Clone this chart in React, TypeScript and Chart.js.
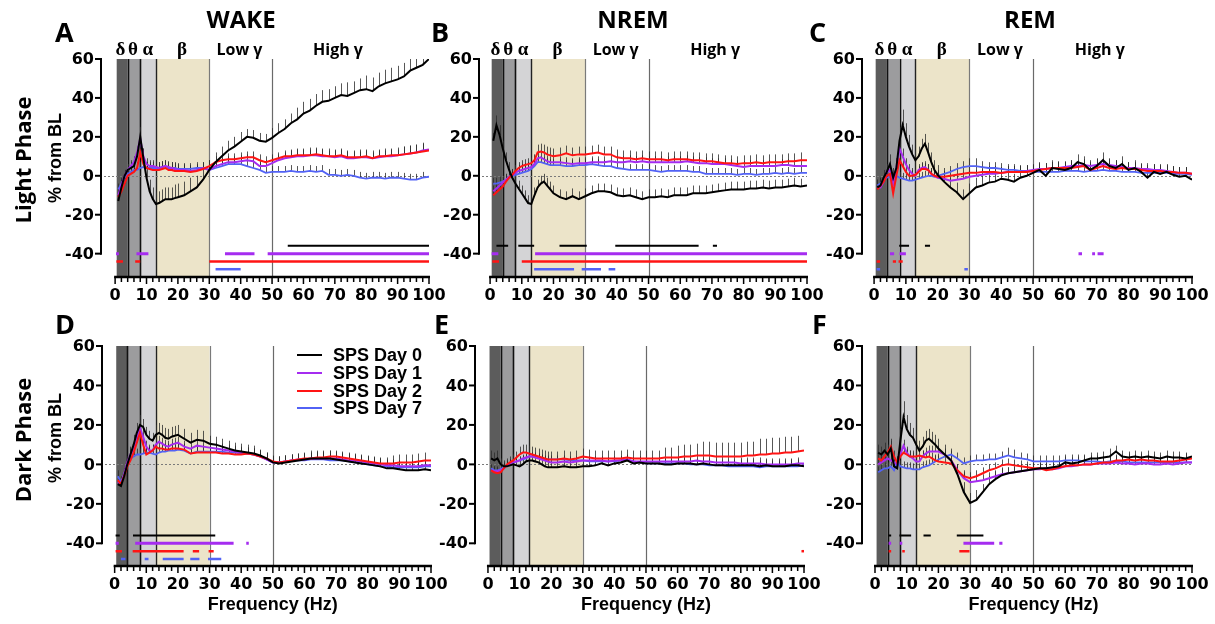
import React, { useEffect, useRef } from "react";
import { Chart, registerables } from "chart.js";

Chart.register(...registerables);

const W = 1215;
const H = 624;

// ---------- shared categories / ticks ----------
const FREQ = [1, 2, 3, 4, 5, 6, 7, 8, 9, 10, 11, 12, 13, 14, 15, 16, 17, 18, 19, 20, 22, 24, 26, 28, 30, 32, 34, 36, 38, 40, 42, 44, 46, 48, 50, 52, 54, 56, 58, 60, 62, 64, 66, 68, 70, 72, 74, 76, 78, 80, 82, 84, 86, 88, 90, 92, 94, 96, 98, 100];
const X_TICKS = [0, 10, 20, 30, 40, 50, 60, 70, 80, 90, 100];
const Y_TICKS = [60, 40, 20, 0, -20, -40];
const SERIES_NAMES = ["SPS Day 0", "SPS Day 1", "SPS Day 2", "SPS Day 7"];
const SIG_LEVELS = [-36, -40, -44, -48];
const BAND_EDGES = [0.5, 4, 8, 13, 30];
const BAND_LABELS = ["δ", "θ", "α", "β", "Low γ", "High γ"];
const BAND_LABEL_HZ = [1.7, 5.7, 10.4, 21.3, 39.6, 71];
const BOUNDARY_HZ = [4, 8, 13, 30, 50];

// ---------- A: WAKE, light phase ----------
const A_D0 = [-13, -6, 0, 3, 4, 5, 10, 20, 9, -1, -8, -12, -14.5, -14, -13, -12, -12, -12, -11.5, -11, -10, -8, -6, -2, 3, 7, 10, 13, 15, 17.5, 20, 19.5, 18, 17.5, 19.5, 22, 24, 27, 29, 32, 33.5, 36, 38, 38.5, 40, 41.5, 41, 42.5, 44, 44.5, 43.5, 46, 47.5, 48.5, 49.5, 51, 54, 55.5, 57, 60];
const A_D1 = [-10, -5, 0, 3, 5, 7, 12, 19, 10, 6, 5, 5, 4.5, 4, 4.5, 5, 4.5, 4, 3.5, 3, 3, 2.5, 3, 4, 3, 5, 6, 7, 7, 7.5, 8, 7.5, 5, 5, 6.5, 8, 9, 9.5, 10, 10, 10.5, 10.5, 10, 10, 9.5, 10, 9, 9, 9.5, 9.5, 9, 9.5, 10, 10, 10.5, 11, 11.5, 12, 13, 13.5];
const A_D2 = [-11, -8, -4, 0, 1, 2, 4, 12, 6, 4, 3.5, 3, 3, 3, 3.5, 4, 3, 3, 2.5, 2.5, 2.5, 2, 2.5, 3.5, 5, 7, 8, 8.5, 8.5, 9, 9.5, 9.5, 8, 7, 8, 9, 10, 10, 10.5, 10.5, 10.5, 11, 10.5, 10, 10, 10.5, 9.5, 9.5, 9.5, 10, 9, 10, 10, 10.5, 10.5, 11, 11.5, 12, 12.5, 13];
const A_D7 = [-7, -4, -1, 1, 2, 3, 3, 4, 4.5, 4, 4, 4, 4, 4, 4.5, 5, 4, 4, 4, 3.5, 3.5, 3.5, 4, 4, 3, 4, 5, 6, 6, 6, 5, 4, 3, 1.5, 2, 2, 2, 2.5, 2, 2, 2.5, 2, 2.5, 0.5, 0.5, 0, 0.5, 0, -1, -1.5, -1, -1, -1.5, -1, -1, -1.5, -2, -2, -1, -0.5];
const A_SEM0 = [3, 3, 3, 3, 3, 3, 4, 5, 5, 6, 6, 6, 6, 6, 6, 6, 6, 6, 7, 7, 7, 7, 6, 6, 5, 5, 5, 5, 5, 5, 4, 4, 4, 4, 5, 5, 5, 5, 6, 6, 6, 6, 6, 6, 6, 6, 7, 6, 6, 7, 7, 7, 7, 7, 7, 7, 7, 7, 7, 7];
const A_SEM1 = [3, 3, 3, 3, 3, 3, 3, 4, 4, 3, 3, 3, 3, 3, 3, 3, 3, 3, 3, 3, 3, 3, 3, 3, 3, 3, 3, 3, 3, 3, 3, 3, 3, 3, 3, 3, 3, 4, 4, 4, 4, 4, 4, 4, 4, 4, 4, 4, 4, 4, 4, 4, 4, 4, 4, 4, 4, 4, 4, 4];
const A_SEM2 = [3, 3, 3, 3, 3, 3, 3, 4, 4, 3, 3, 3, 3, 3, 3, 3, 3, 3, 3, 3, 3, 3, 3, 3, 3, 3, 3, 3, 3, 3, 3, 3, 3, 3, 3, 3, 3, 3, 3, 3, 3, 3, 3, 3, 3, 3, 3, 3, 3, 3, 3, 3, 3, 3, 3, 4, 4, 4, 4, 4];
const A_SEM7 = [3, 3, 3, 3, 3, 3, 3, 3, 3, 3, 3, 3, 3, 3, 3, 3, 3, 3, 3, 3, 3, 3, 3, 3, 3, 3, 3, 3, 3, 3, 3, 4, 4, 3, 3, 3, 3, 3, 3, 3, 3, 3, 3, 3, 3, 3, 3, 3, 3, 3, 3, 3, 3, 3, 3, 3, 3, 3, 3, 3];
const SIG_A0 = [[55, 100]];
const SIG_A1 = [[0.3, 1.2], [6.8, 10.6], [35, 44.4], [48.6, 100]];
const SIG_A2 = [[0.4, 2.5], [6.4, 8], [30, 100]];
const SIG_A7 = [[32, 40]];

// ---------- B: NREM, light phase ----------
const B_D0 = [18, 26, 21, 14, 8, 3, -1, -4, -6.5, -9, -11.5, -14, -14.5, -10, -6, -4, -3, -5, -7, -9, -11, -12, -10.5, -12, -10.5, -9, -8, -8, -8.5, -10, -10.5, -10, -11, -12, -11, -11, -10.5, -11, -10, -10, -10, -9, -9, -9, -8.5, -8, -7.5, -7, -7, -7, -6.5, -6.5, -6, -6.5, -6, -6, -5.5, -5, -5.5, -5];
const B_D1 = [-8, -6.5, -5, -3.5, -2, -0.5, 0.5, 1.5, 2.5, 3, 3.5, 4, 4.5, 6, 9, 9.5, 8.5, 7.5, 7, 7, 7, 6.5, 6, 6.5, 6.5, 7, 7, 7, 7.5, 7, 7, 7.5, 7, 7.5, 7, 7, 7, 7, 7, 7, 7.5, 7, 6.5, 6.5, 6, 6, 6, 5.5, 5, 4.5, 5, 5, 5, 5, 5, 5.5, 5.5, 5, 5, 5];
const B_D2 = [-10, -8.5, -7, -5.5, -3, -1, 0.5, 2.5, 4, 5, 5.5, 6, 6.5, 8, 12, 12.5, 12, 11, 10.5, 10, 10.5, 11.5, 10.5, 11, 11, 11.5, 12, 11, 11, 9.5, 9, 9, 8.5, 9, 8.5, 8.5, 8.5, 8, 8.5, 8.5, 8.5, 8, 8, 7.5, 7.5, 7, 6.5, 6.5, 6, 6.5, 6.5, 7, 6.5, 7, 7, 7, 7.5, 7.5, 8, 8];
const B_D7 = [-4, -4, -3.5, -3, -2, -1, 0, 0.5, 1, 1.5, 2, 2.5, 3.5, 5, 7, 7, 6.5, 6, 5.5, 5.5, 5.5, 5, 5, 5.5, 5.5, 6, 5.5, 5, 5, 4, 3.5, 3, 3, 3, 3, 2.5, 2, 2.5, 2.5, 2.5, 2.5, 2, 2, 1, 1, 1, 1, 1, 0.5, 1, 1, 0.5, 1, 1, 1.5, 1, 1.5, 1, 1.5, 1.5];
const B_SEM0 = [4, 5, 5, 4, 4, 4, 4, 4, 4, 4, 4, 4, 4, 4, 4, 4, 4, 4, 4, 4, 4, 4, 4, 4, 4, 4, 4, 4, 4, 4, 4, 4, 4, 4, 4, 4, 4, 4, 4, 4, 4, 4, 4, 4, 4, 4, 4, 4, 4, 4, 4, 4, 4, 4, 4, 4, 4, 4, 4, 4];
const B_SEM1 = [3, 3, 3, 3, 3, 3, 3, 3, 3, 3, 3, 3, 3, 3, 3, 3, 3, 3, 3, 3, 3, 3, 3, 3, 3, 3, 3, 3, 3, 3, 3, 3, 3, 3, 3, 3, 3, 3, 3, 3, 3, 3, 3, 3, 3, 3, 3, 3, 3, 3, 3, 3, 3, 3, 3, 3, 3, 3, 3, 3];
const B_SEM2 = [3, 3, 3, 3, 3, 3, 3, 3, 3, 3, 3, 3, 3, 3, 4, 4, 4, 4, 4, 4, 4, 4, 4, 4, 4, 4, 4, 4, 4, 4, 4, 4, 4, 4, 4, 4, 4, 4, 4, 4, 4, 4, 4, 4, 4, 4, 4, 4, 4, 4, 4, 4, 4, 4, 4, 4, 4, 4, 4, 4];
const B_SEM7 = [3, 3, 3, 3, 3, 3, 3, 3, 3, 3, 3, 3, 3, 3, 3, 3, 3, 3, 3, 3, 3, 3, 3, 3, 3, 3, 3, 3, 3, 3, 3, 3, 3, 3, 3, 3, 3, 3, 3, 3, 3, 3, 3, 3, 3, 3, 3, 3, 3, 3, 3, 3, 3, 3, 3, 3, 3, 3, 3, 3];
const SIG_B0 = [[2, 5.7], [8.9, 13.9], [21.9, 30.5], [39.5, 65.8], [70.3, 71.6]];
const SIG_B1 = [[0.5, 2.6], [14.2, 100]];
const SIG_B2 = [[0.7, 2.8], [10, 100]];
const SIG_B7 = [[13.9, 26.5], [28.9, 35], [37.4, 39.5]];

// ---------- C: REM, light phase ----------
const C_D0 = [-6, -5, -1, 2, 6, -1, 4, 18, 26, 20, 15, 11, 8, 10, 14, 16.5, 12, 7, 3, 0.5, -3, -6, -8.5, -12, -9, -6, -5, -3.5, -3, -1.5, -2, -3, -1, 0, 1.5, 3, 0, 4, 3.5, 3, 4, 7, 6, 3, 5, 8, 5, 4, 6, 3, 4, 2, -1, 2, 1, 2, 0.5, -0.5, 0, -2];
const C_D1 = [-6, -6, -3, 2, 3, -4, 4, 14, 10, 6, 3, 1, 0, 3, 4, 4.5, 3, 1, 0, -1, -1.5, -2.5, -2, -1.5, -0.5, 0, 0.5, 1, 1, 1.5, 2, 2, 2, 2.5, 3, 3.5, 3.5, 4, 4, 4.5, 5, 5, 5.5, 5, 5.5, 6, 5.5, 5, 4.5, 4, 4, 3.5, 3.5, 3, 3, 2.5, 2, 1.5, 1.5, 1];
const C_D2 = [-7, -5, -3, 0, 1, -9, 0, 8, 5, 2, 0, 0, 0.5, 2, 3.5, 3.5, 3, 1, 0, -0.5, -0.5, 0, 0.5, 1, 1.5, 1.5, 2, 2, 2, 1.5, 2, 2, 2, 2, 2.5, 3, 3.5, 4, 4, 4, 4, 4.5, 5, 3, 4, 5, 4, 3.5, 4, 3.5, 3.5, 3, 2.5, 2.5, 2.5, 2, 2, 1.5, 1.5, 1];
const C_D7 = [-5, -4, -2, -1, -0.5, -4, 0, -1, -1.5, -2, -2.5, -2.5, -2, -1.5, -1, -0.5, 0, 0, -0.5, 0, 1, 2, 3.5, 4.5, 5, 5, 4.5, 4, 4, 3.5, 3, 3, 2.5, 2.5, 2, 2, 2, 2, 2, 2.5, 2.5, 2.5, 2, 2.5, 2.5, 3, 2.5, 2.5, 2, 2, 2, 1.5, 1.5, 1.5, 1.5, 1.5, 1, 1, 1, 0.5];
const C_SEM0 = [4, 4, 4, 4, 5, 5, 5, 7, 8, 7, 6, 5, 5, 5, 5, 5, 5, 5, 5, 5, 5, 5, 5, 5, 5, 5, 5, 4, 4, 4, 4, 4, 4, 4, 4, 4, 4, 4, 4, 4, 4, 4, 4, 4, 4, 4, 4, 4, 4, 4, 4, 4, 4, 4, 4, 4, 4, 4, 4, 4];
const C_SEM1 = [3, 3, 3, 3, 3, 3, 3, 4, 4, 3, 3, 3, 3, 3, 3, 3, 3, 3, 3, 3, 3, 3, 3, 3, 3, 3, 3, 3, 3, 3, 3, 3, 3, 3, 3, 3, 3, 3, 3, 3, 3, 3, 3, 3, 3, 3, 3, 3, 3, 3, 3, 3, 3, 3, 3, 3, 3, 3, 3, 3];
const C_SEM2 = [3, 3, 3, 3, 3, 3, 3, 3, 3, 3, 3, 3, 3, 3, 3, 3, 3, 3, 3, 3, 3, 3, 3, 3, 3, 3, 3, 3, 3, 3, 3, 3, 3, 3, 3, 3, 3, 3, 3, 3, 3, 3, 3, 3, 3, 3, 3, 3, 3, 3, 3, 3, 3, 3, 3, 3, 3, 3, 3, 3];
const C_SEM7 = [3, 3, 3, 3, 3, 3, 3, 3, 3, 3, 3, 3, 3, 3, 3, 3, 3, 3, 3, 3, 3, 3, 3, 3, 4, 4, 3, 3, 3, 3, 3, 3, 3, 3, 3, 3, 3, 3, 3, 3, 3, 3, 3, 3, 3, 3, 3, 3, 3, 3, 3, 3, 3, 3, 3, 3, 3, 3, 3, 3];
const SIG_C0 = [[7.9, 11], [16, 17.6]];
const SIG_C1 = [[5, 6.3], [8, 10], [64.3, 65.4], [68.6, 69.5], [70.3, 72.2]];
const SIG_C2 = [[0.8, 1.9], [5.9, 6.9], [7.7, 9]];
const SIG_C7 = [[0.8, 1.9], [28.4, 29.5]];

// ---------- D: WAKE, dark phase ----------
const D_D0 = [-10, -11, -6, 0, 5, 10, 16, 20, 19, 15, 13, 12, 15, 16, 15, 13.5, 13, 14, 14.5, 15, 13, 11, 12.5, 12, 10.5, 10, 9, 8, 7, 6.5, 6, 5.5, 4.5, 3, 1, 0.5, 1, 1.5, 2, 2.5, 3, 3, 3, 3, 2.5, 2, 1.5, 1, 0.5, 0, -0.5, -1, -2, -2, -2.5, -3, -3, -3, -2.5, -3];
const D_D1 = [-9, -10, -5, 1, 5, 8, 14, 18.5, 14, 9, 7, 7, 10, 11.5, 10.5, 9.5, 9, 10, 10.5, 11, 9, 8, 9.5, 9, 8.5, 8, 7.5, 7, 6.5, 6, 5.5, 5, 4, 2.5, 1, 1, 1.5, 2, 2.5, 2.5, 3, 3, 3, 3, 3, 2.5, 2, 2, 1.5, 1, 0.5, 0, -0.5, -0.5, -1, -1, -1, -1, -0.5, -0.5];
const D_D2 = [-8, -10, -6, -1, 2, 6, 11, 16, 10, 5, 6, 7, 9, 8, 8, 7.5, 7.5, 8, 8, 8, 7.5, 5.5, 6, 6, 6, 6, 5.5, 5.5, 5, 5, 5.5, 5, 4, 3, 1.5, 1, 1.5, 2, 2.5, 3, 3, 3.5, 3.5, 4, 4, 3.5, 3, 2.5, 2, 1.5, 1, 0.5, 0.5, 0.5, 1, 1, 1, 1.5, 2, 2];
const D_D7 = [-6, -9, -5, 0, 3, 4, 5, 5, 5.5, 6, 6, 5.5, 5, 6, 6.5, 6.5, 7, 7, 7, 7.5, 7, 5.5, 6.5, 6.5, 6.5, 6.5, 6.5, 6, 6, 5.5, 5.5, 5, 4, 2.5, 1, 1, 1.5, 2, 2, 2, 2.5, 2.5, 2.5, 2, 2, 2, 1.5, 1, 0.5, 0, -0.5, -1, -1, -1.5, -1.5, -1.5, -1.5, -1.5, -1, -1];
const D_SEM0 = [3, 3, 3, 4, 4, 5, 5, 5, 4, 4, 4, 4, 5, 5, 5, 5, 5, 5, 5, 5, 5, 5, 5, 5, 4, 4, 4, 4, 4, 4, 4, 4, 3, 3, 3, 3, 3, 3, 3, 3, 4, 4, 4, 4, 4, 4, 4, 4, 4, 4, 4, 4, 4, 4, 4, 4, 4, 4, 4, 4];
const D_SEM1 = [3, 3, 3, 3, 3, 3, 3, 4, 4, 3, 3, 3, 3, 3, 3, 3, 3, 3, 3, 3, 3, 3, 3, 3, 3, 3, 3, 3, 3, 3, 3, 3, 3, 3, 3, 3, 3, 3, 3, 3, 3, 3, 3, 3, 3, 3, 3, 3, 3, 3, 3, 3, 3, 3, 3, 3, 3, 3, 3, 3];
const D_SEM2 = [3, 3, 3, 3, 3, 3, 3, 4, 4, 3, 3, 3, 3, 3, 3, 3, 3, 3, 3, 3, 3, 3, 3, 3, 3, 3, 3, 3, 3, 3, 3, 3, 3, 3, 3, 3, 3, 3, 3, 3, 3, 3, 3, 3, 3, 3, 3, 3, 3, 3, 3, 3, 3, 4, 4, 4, 4, 4, 4, 4];
const D_SEM7 = [3, 3, 3, 3, 3, 3, 3, 3, 3, 3, 3, 3, 3, 3, 3, 3, 3, 3, 3, 3, 3, 3, 3, 3, 3, 3, 3, 3, 3, 3, 3, 3, 3, 3, 3, 3, 3, 3, 3, 3, 3, 3, 3, 3, 3, 3, 3, 3, 3, 3, 3, 3, 3, 3, 3, 3, 3, 3, 3, 3];
const SIG_D0 = [[0.3, 1.6], [5.8, 31.8]];
const SIG_D1 = [[0.3, 1.3], [6.5, 37.6], [41.6, 42.4]];
const SIG_D2 = [[0.3, 2.3], [5.7, 21.8], [24.7, 26.7], [29.7, 31.3]];
const SIG_D7 = [[2, 3.4], [9.5, 10.7], [15.2, 21.8], [23.9, 26.8], [29.5, 33.7]];

// ---------- E: NREM, dark phase ----------
const E_D0 = [3, 2, 3, 0, -1, -1, -0.5, 0, -0.5, -1, 0, 1.5, 2, 2, 1.5, 1, 0, -1, -1.5, -1.5, -1.5, -1, -1.5, -1.5, -1, -1, -0.5, 0.5, -0.5, 0.5, 1, 2, 0.5, 1, 0.5, 0.5, 0.5, 0, 0, 0.5, 0.5, 0.5, 0, 0.5, 0, -0.5, -0.5, -0.5, -0.5, -0.5, -0.5, -0.5, -1, -0.5, -1, -1, -1, -0.5, -0.5, -1];
const E_D1 = [-3, -3.5, -3.5, -3, -2, -0.5, 0.5, 1, 1.5, 2, 3, 3.5, 4, 4, 3.5, 3, 2.5, 2, 1.5, 1, 1, 1.5, 1, 1.5, 2, 2, 2, 2, 1.5, 2, 2, 2.5, 1.5, 1.5, 1.5, 1.5, 1.5, 1.5, 1.5, 1.5, 1.5, 1.5, 2, 1.5, 1.5, 1, 1, 1, 1, 0.5, 0.5, 0.5, 0.5, 0, 0, 0, 0, 0, 0.5, 0.5];
const E_D2 = [-3, -4, -4.5, -4, -2, 0, 1, 2, 3.5, 5, 6, 6, 5.5, 5, 4.5, 4, 3.5, 3, 2.5, 2.5, 2.5, 3, 2.5, 3, 4, 3.5, 3, 3, 3, 3, 3, 3.5, 3, 3, 3, 3, 3, 3.5, 3.5, 3.5, 4, 4, 4.5, 4.5, 4.5, 4, 4, 4, 4, 4, 4.5, 4.5, 5, 5, 5.5, 5.5, 6, 6, 6.5, 7];
const E_D7 = [-2, -3, -3, -2.5, -1.5, -0.5, 0.5, 1, 1.5, 2, 2.5, 3, 4, 4, 4, 3.5, 3, 2.5, 2.5, 2.5, 2.5, 2.5, 2, 2, 2, 1.5, 1.5, 1.5, 1.5, 1.5, 2, 2.5, 1.5, 1, 0.5, 0.5, 0.5, 0.5, 0.5, 0.5, 0.5, 0, 0, 0, -0.5, -0.5, -0.5, -1, -1, -1, -1, -1, -1.5, -1, -1, -1, -1, -1, -1, -0.5];
const E_SEM0 = [4, 4, 4, 3, 3, 3, 3, 3, 3, 3, 3, 3, 3, 3, 3, 3, 3, 3, 3, 3, 3, 3, 3, 3, 3, 3, 3, 3, 3, 3, 3, 3, 3, 3, 3, 3, 3, 3, 3, 3, 3, 3, 3, 3, 3, 3, 3, 3, 3, 3, 3, 3, 3, 3, 3, 3, 3, 3, 3, 3];
const E_SEM1 = [2, 2, 2, 2, 2, 2, 2, 2, 2, 2, 2, 2, 2, 2, 2, 2, 2, 2, 2, 2, 2, 2, 2, 2, 2, 2, 2, 2, 2, 2, 2, 2, 2, 2, 2, 2, 2, 2, 2, 2, 3, 3, 3, 3, 3, 3, 3, 3, 3, 3, 3, 3, 3, 3, 3, 3, 3, 3, 3, 3];
const E_SEM2 = [3, 3, 3, 3, 3, 3, 3, 3, 3, 4, 4, 4, 4, 4, 4, 4, 4, 4, 4, 4, 4, 4, 4, 4, 4, 4, 4, 4, 4, 4, 4, 4, 4, 4, 4, 4, 4, 5, 5, 6, 6, 6, 6, 7, 7, 7, 7, 7, 7, 7, 7, 7, 8, 8, 8, 8, 8, 8, 8, 8];
const E_SEM7 = [2, 2, 2, 2, 2, 2, 2, 2, 2, 2, 2, 2, 2, 2, 2, 2, 2, 2, 2, 2, 2, 2, 2, 2, 2, 2, 2, 2, 2, 2, 2, 2, 2, 2, 2, 2, 2, 2, 2, 2, 2, 2, 2, 2, 2, 2, 2, 2, 2, 2, 2, 2, 2, 2, 2, 2, 2, 2, 2, 2];
const SIG_E0: number[][] = [];
const SIG_E1: number[][] = [];
const SIG_E2 = [[99.2, 100]];
const SIG_E7: number[][] = [];

// ---------- F: REM, dark phase ----------
const F_D0 = [6, 5, 7, 5, 8, -1, -2, 12, 24, 18, 15, 13.5, 10, 7, 9, 12, 13, 11.5, 10, 8, 5, 2, -5, -14, -19.5, -18, -14, -10, -7.5, -5.5, -4.5, -4, -3.5, -3, -2.5, -2, -2, -1.5, -1, 1, 0.5, 1, 2, 3, 3, 3.5, 4, 6.5, 4, 3.5, 4, 3.5, 4, 3.5, 3, 4, 3.5, 3.5, 3, 4];
const F_D1 = [0, 1, 2, 3, 2, 1, 0, 5, 9.5, 6, 4, 3, 1.5, 1.5, 4, 5.5, 6.5, 6.5, 6.5, 6.5, 5, 2, -3, -7, -9, -8.5, -8, -7, -6, -5, -4.5, -4, -3.5, -3, -2.5, -2.5, -2, -2.5, -2, -1, -1, -0.5, 0, 0, 0.5, 0.5, 0.5, 1, 0.5, 0.5, 0, 0.5, 0.5, 0, 0, 0.5, 0, 0.5, 1, 1];
const F_D2 = [3, 2, 4, 6, 9, 4, 1, 4, 6, 5, 4, 4, 4, 4.5, 4, 3.5, 4, 3, 2, 1.5, 1, 0.5, -3, -6, -7, -6, -4.5, -3, -2, -0.5, 0, -0.5, -1, -1.5, -2, -2, -3, -2.5, -1.5, -1, -0.5, -0.5, 0, 0, 0.5, 1, 1, 2, 2, 2.5, 2, 2.5, 2, 2, 1.5, 1.5, 1.5, 2, 2.5, 3];
const F_D7 = [-4, -3, -2, -2, -1, -3, 1, -1, -1.5, -2, -2, -2.5, -2.5, -2.5, -1.5, -1, -0.5, 0.5, 1.5, 2.5, 4, 5, 3, 0.5, 1.5, 2, 2, 2.5, 2.5, 3.5, 4.5, 3.5, 3, 2.5, 1.5, 1.5, 1.5, 1.5, 1.5, 2, 2, 2, 1.5, 1.5, 1.5, 1, 1.5, 1.5, 1.5, 1, 1, 1, 1, 1, 1, 1, 1, 1, 1, 1];
const F_SEM0 = [4, 4, 4, 5, 5, 5, 5, 6, 8, 7, 6, 5, 5, 5, 5, 5, 5, 5, 5, 5, 5, 5, 5, 5, 5, 5, 4, 4, 4, 4, 3, 3, 3, 3, 3, 3, 3, 3, 3, 3, 3, 3, 3, 3, 3, 3, 4, 3, 3, 3, 3, 3, 3, 3, 3, 3, 3, 3, 3, 3];
const F_SEM1 = [3, 3, 3, 3, 3, 3, 3, 3, 3, 3, 3, 3, 3, 3, 3, 3, 3, 3, 3, 3, 3, 3, 3, 3, 3, 3, 3, 3, 3, 3, 3, 3, 3, 3, 3, 3, 3, 3, 3, 3, 3, 3, 3, 3, 3, 3, 3, 3, 3, 3, 3, 3, 3, 3, 3, 3, 3, 3, 3, 3];
const F_SEM2 = [3, 3, 3, 3, 3, 3, 3, 3, 3, 3, 3, 3, 3, 3, 3, 3, 3, 3, 3, 3, 3, 3, 3, 3, 3, 3, 3, 3, 3, 3, 3, 3, 3, 3, 3, 3, 3, 3, 3, 3, 3, 3, 3, 3, 3, 3, 3, 3, 3, 3, 3, 3, 3, 3, 3, 3, 3, 3, 3, 3];
const F_SEM7 = [3, 3, 3, 3, 3, 3, 3, 3, 3, 3, 3, 3, 3, 3, 3, 3, 3, 3, 3, 3, 3, 3, 3, 3, 3, 3, 3, 3, 3, 3, 4, 4, 3, 3, 3, 3, 3, 3, 3, 3, 3, 3, 3, 3, 3, 3, 3, 3, 3, 3, 3, 3, 3, 3, 3, 3, 3, 3, 3, 3];
const SIG_F0 = [[4.3, 5.1], [7.7, 11.4], [15.3, 17.6], [25.8, 34.2]];
const SIG_F1 = [[4.3, 5.1], [7.8, 8.6], [27.9, 37.6], [39.2, 40.2]];
const SIG_F2 = [[4.3, 5.1], [8.6, 9.4], [26.6, 29.8]];
const SIG_F7: number[][] = [];

// ---------- styling ----------
const SERIES_COLORS = ["#000000", "#a52cf0", "#ff1414", "#5262f5"];
const SERIES_WIDTHS = [2, 2, 2, 1.8];
const SIG_WIDTHS = [2, 3, 2.5, 2.5];
const BAND_COLORS = ["#5c5c5c", "#9c9c9e", "#d4d4d6", "#ece4c9"];
const BOUNDARY_COLORS = ["#111111", "#111111", "#222222", "#7a7a7a", "#6a6a6a"];
const BOUNDARY_WIDTHS = [1.6, 1.6, 1.4, 1.2, 1.2];
const TICK_FONT = 'bold 16px "DejaVu Sans"';
const AXIS_FONT = 'bold 18px "Liberation Sans"';

type Area = { l: number; r: number; t: number; b: number };
type PanelCfg = {
  id: string;
  area: Area;
  xMin: number;
  yMin: number;
  series: number[][];
  sems: number[][];
  sigs: number[][][];
  letter: string;
  letterPos: [number, number];
  title?: string;
  titlePos?: [number, number];
  bandLabels: boolean;
  rowLabel?: string;
  rowLabelY?: number;
  xTitle: boolean;
  legend: boolean;
};

const PANELS: PanelCfg[] = [
  { id: "A", area: { l: 101, r: 429, t: 59, b: 277 }, xMin: -4.5, yMin: -52, series: [A_D0, A_D1, A_D2, A_D7], sems: [A_SEM0, A_SEM1, A_SEM2, A_SEM7], sigs: [SIG_A0, SIG_A1, SIG_A2, SIG_A7], letter: "A", letterPos: [55, 42], title: "WAKE", titlePos: [241, 28], bandLabels: true, rowLabel: "Light Phase", rowLabelY: 160, xTitle: false, legend: false },
  { id: "B", area: { l: 479, r: 807, t: 59, b: 277 }, xMin: -3.5, yMin: -52, series: [B_D0, B_D1, B_D2, B_D7], sems: [B_SEM0, B_SEM1, B_SEM2, B_SEM7], sigs: [SIG_B0, SIG_B1, SIG_B2, SIG_B7], letter: "B", letterPos: [431, 42], title: "NREM", titlePos: [633, 28], bandLabels: true, xTitle: false, legend: false },
  { id: "C", area: { l: 862, r: 1192, t: 59, b: 277 }, xMin: -3.8, yMin: -52, series: [C_D0, C_D1, C_D2, C_D7], sems: [C_SEM0, C_SEM1, C_SEM2, C_SEM7], sigs: [SIG_C0, SIG_C1, SIG_C2, SIG_C7], letter: "C", letterPos: [809, 42], title: "REM", titlePos: [1030, 28], bandLabels: true, xTitle: false, legend: false },
  { id: "D", area: { l: 102, r: 431, t: 346, b: 566 }, xMin: -4.0, yMin: -51.5, series: [D_D0, D_D1, D_D2, D_D7], sems: [D_SEM0, D_SEM1, D_SEM2, D_SEM7], sigs: [SIG_D0, SIG_D1, SIG_D2, SIG_D7], letter: "D", letterPos: [55, 334], bandLabels: false, rowLabel: "Dark Phase", rowLabelY: 440, xTitle: true, legend: true },
  { id: "E", area: { l: 475, r: 804, t: 346, b: 566 }, xMin: -4.1, yMin: -51.5, series: [E_D0, E_D1, E_D2, E_D7], sems: [E_SEM0, E_SEM1, E_SEM2, E_SEM7], sigs: [SIG_E0, SIG_E1, SIG_E2, SIG_E7], letter: "E", letterPos: [434, 334], bandLabels: false, xTitle: true, legend: false },
  { id: "F", area: { l: 862, r: 1192, t: 346, b: 566 }, xMin: -4.1, yMin: -51.5, series: [F_D0, F_D1, F_D2, F_D7], sems: [F_SEM0, F_SEM1, F_SEM2, F_SEM7], sigs: [SIG_F0, SIG_F1, SIG_F2, SIG_F7], letter: "F", letterPos: [812, 334], bandLabels: false, xTitle: true, legend: false },
];

// drawing order: index 0 is drawn on top
const DRAW_ORDER = [0, 2, 1, 3];

function makePlugin(p: PanelCfg) {
  return {
    id: "panelDecor" + p.id,
    beforeDatasetsDraw(chart: any) {
      const { ctx, chartArea: ca } = chart;
      const x = chart.scales.x;
      const y = chart.scales.y;
      ctx.save();
      // frequency bands
      for (let i = 0; i < BAND_EDGES.length - 1; i++) {
        const x1 = x.getPixelForValue(BAND_EDGES[i]);
        const x2 = x.getPixelForValue(BAND_EDGES[i + 1]);
        ctx.fillStyle = BAND_COLORS[i];
        ctx.fillRect(x1, ca.top, x2 - x1, ca.bottom - ca.top);
      }
      BOUNDARY_HZ.forEach((hz, i) => {
        const px = Math.round(x.getPixelForValue(hz)) + 0.5;
        ctx.strokeStyle = BOUNDARY_COLORS[i];
        ctx.lineWidth = BOUNDARY_WIDTHS[i];
        ctx.beginPath();
        ctx.moveTo(px, ca.top);
        ctx.lineTo(px, ca.bottom);
        ctx.stroke();
      });
      // zero reference line
      const y0 = Math.round(y.getPixelForValue(0)) + 0.5;
      ctx.strokeStyle = "#7a7a7a";
      ctx.lineWidth = 1;
      ctx.setLineDash([2, 2]);
      ctx.beginPath();
      ctx.moveTo(ca.left + 3, y0);
      ctx.lineTo(x.getPixelForValue(100), y0);
      ctx.stroke();
      ctx.setLineDash([]);
      // error bars (SEM, drawn upward)
      ctx.beginPath();
      ctx.rect(ca.left, ca.top, ca.right - ca.left, ca.bottom - ca.top);
      ctx.clip();
      ctx.strokeStyle = "rgba(45,45,45,0.8)";
      ctx.lineWidth = 1;
      chart.data.datasets.forEach((ds: any) => {
        if (!ds.sem) return;
        ds.data.forEach((pt: any, i: number) => {
          const px = Math.round(x.getPixelForValue(pt.x)) + 0.5;
          const py1 = y.getPixelForValue(pt.y);
          const py2 = y.getPixelForValue(pt.y + ds.sem[i]);
          ctx.beginPath();
          ctx.moveTo(px, py1);
          ctx.lineTo(px, py2);
          ctx.stroke();
        });
      });
      ctx.restore();
    },
    afterDraw(chart: any) {
      const { ctx, chartArea: ca } = chart;
      const x = chart.scales.x;
      const y = chart.scales.y;
      ctx.save();
      ctx.strokeStyle = "#000";
      ctx.fillStyle = "#000";
      // y axis (offset, spans 60 .. -40)
      const yTop = y.getPixelForValue(Y_TICKS[0]);
      const yBot = y.getPixelForValue(Y_TICKS[Y_TICKS.length - 1]);
      ctx.lineWidth = 2;
      ctx.beginPath();
      ctx.moveTo(ca.left, yTop - 1);
      ctx.lineTo(ca.left, yBot + 1);
      ctx.stroke();
      ctx.font = TICK_FONT;
      ctx.textAlign = "right";
      ctx.textBaseline = "middle";
      Y_TICKS.forEach((v) => {
        const py = y.getPixelForValue(v);
        ctx.beginPath();
        ctx.moveTo(ca.left - 6, py);
        ctx.lineTo(ca.left, py);
        ctx.stroke();
        ctx.fillText(String(v), ca.left - 7, py + 1);
      });
      // x axis (0 .. 100)
      const x0 = x.getPixelForValue(X_TICKS[0]);
      const x100 = x.getPixelForValue(X_TICKS[X_TICKS.length - 1]);
      ctx.lineWidth = 2.5;
      ctx.beginPath();
      ctx.moveTo(x0 - 1, ca.bottom);
      ctx.lineTo(x100 + 1, ca.bottom);
      ctx.stroke();
      ctx.lineWidth = 1.5;
      for (let v = 0; v <= 100; v += 2) {
        const px = x.getPixelForValue(v);
        const len = v % 10 === 0 ? 7 : 5;
        ctx.beginPath();
        ctx.moveTo(px, ca.bottom);
        ctx.lineTo(px, ca.bottom + len);
        ctx.stroke();
      }
      ctx.textAlign = "center";
      ctx.textBaseline = "top";
      X_TICKS.forEach((v) => {
        ctx.fillText(String(v), x.getPixelForValue(v), ca.bottom + 11);
      });
      // band labels
      if (p.bandLabels) {
        ctx.textBaseline = "alphabetic";
        BAND_LABELS.forEach((lab, i) => {
          ctx.font = i < 4 ? 'bold 19px "Liberation Serif"' : 'bold 16px "Open Sans"';
          ctx.fillText(lab, x.getPixelForValue(BAND_LABEL_HZ[i]), ca.top - 4);
        });
      }
      // panel letter
      ctx.textAlign = "left";
      ctx.textBaseline = "alphabetic";
      ctx.font = 'bold 27px "Open Sans"';
      ctx.fillText(p.letter, p.letterPos[0], p.letterPos[1]);
      // column title
      if (p.title && p.titlePos) {
        ctx.textAlign = "center";
        ctx.font = 'bold 24px "Open Sans"';
        ctx.fillText(p.title, p.titlePos[0], p.titlePos[1]);
      }
      // row labels
      if (p.rowLabel && p.rowLabelY) {
        ctx.save();
        ctx.translate(25, p.rowLabelY);
        ctx.rotate(-Math.PI / 2);
        ctx.textAlign = "center";
        ctx.textBaseline = "middle";
        ctx.font = 'bold 22px "Open Sans"';
        ctx.fillText(p.rowLabel, 0, 0);
        ctx.restore();
        ctx.save();
        ctx.translate(56, p.rowLabelY - 2);
        ctx.rotate(-Math.PI / 2);
        ctx.textAlign = "center";
        ctx.textBaseline = "middle";
        ctx.font = AXIS_FONT;
        ctx.fillText("% from BL", 0, 0);
        ctx.restore();
      }
      // x title
      if (p.xTitle) {
        ctx.textAlign = "center";
        ctx.textBaseline = "middle";
        ctx.font = AXIS_FONT;
        ctx.fillText("Frequency (Hz)", x.getPixelForValue(50), 605);
      }
      // legend
      if (p.legend) {
        const rows = [355, 373, 391, 408];
        ctx.font = AXIS_FONT;
        ctx.textAlign = "left";
        ctx.textBaseline = "middle";
        SERIES_NAMES.forEach((name, i) => {
          ctx.strokeStyle = SERIES_COLORS[i];
          ctx.lineWidth = 2;
          ctx.beginPath();
          ctx.moveTo(297, rows[i]);
          ctx.lineTo(322, rows[i]);
          ctx.stroke();
          ctx.fillStyle = "#000";
          ctx.fillText(name, 333, rows[i] + 1);
        });
      }
      ctx.restore();
    },
  };
}

function buildDatasets(p: PanelCfg) {
  const lines = DRAW_ORDER.map((si) => ({
    label: SERIES_NAMES[si],
    data: FREQ.map((f, i) => ({ x: f, y: p.series[si][i] })),
    sem: p.sems[si],
    borderColor: SERIES_COLORS[si],
    backgroundColor: SERIES_COLORS[si],
    borderWidth: SERIES_WIDTHS[si],
    pointRadius: 0,
    tension: 0,
    fill: false,
  }));
  const sigs = p.sigs.map((segs, si) => ({
    label: "sig " + SERIES_NAMES[si],
    data: segs.flatMap(([a, b]) => [
      { x: a, y: SIG_LEVELS[si] },
      { x: b, y: SIG_LEVELS[si] },
      { x: b, y: null },
    ]),
    borderColor: SERIES_COLORS[si],
    borderWidth: SIG_WIDTHS[si],
    borderCapStyle: "butt",
    pointRadius: 0,
    spanGaps: false,
    fill: false,
  }));
  return [...lines, ...sigs];
}

function PanelChart({ p }: { p: PanelCfg }) {
  const ref = useRef<HTMLCanvasElement>(null);
  useEffect(() => {
    if (!ref.current) return;
    const chart = new Chart(ref.current, {
      type: "line",
      data: { datasets: buildDatasets(p) as any },
      options: {
        responsive: false,
        animation: false,
        devicePixelRatio: 1,
        events: [],
        layout: { padding: { left: p.area.l, right: W - p.area.r, top: p.area.t, bottom: H - p.area.b } },
        plugins: { legend: { display: false }, title: { display: false }, tooltip: { enabled: false } },
        scales: {
          x: { type: "linear", min: p.xMin, max: 100, display: false },
          y: { type: "linear", min: p.yMin, max: 60, display: false },
        },
      },
      plugins: [makePlugin(p)],
    } as any);
    return () => chart.destroy();
  }, [p]);
  return <canvas ref={ref} width={W} height={H} style={{ position: "absolute", left: 0, top: 0 }} />;
}

export default function App() {
  return (
    <div style={{ position: "fixed", left: 0, top: 0, width: W, height: H, background: "#fff", overflow: "hidden" }}>
      {PANELS.map((p) => (
        <PanelChart key={p.id} p={p} />
      ))}
    </div>
  );
}
